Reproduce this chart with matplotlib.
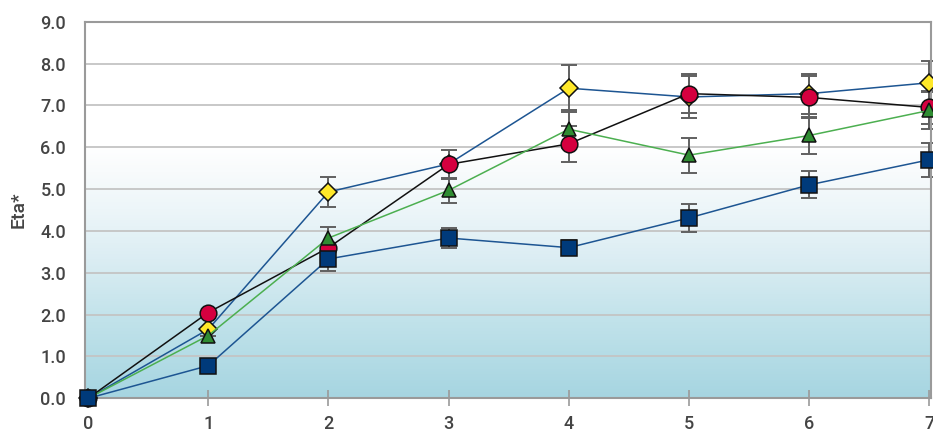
import numpy as np
import matplotlib
matplotlib.use("Agg")
import matplotlib.pyplot as plt
from matplotlib.colors import LinearSegmentedColormap

# ---- data ----
x = [0, 1, 2, 3, 4, 5, 6, 7]
squares = [0.0, 0.78, 3.33, 3.83, 3.60, 4.31, 5.10, 5.70]
squares_err = [0.0, 0.0, 0.28, 0.25, 0.18, 0.33, 0.32, 0.40]
diamonds = [0.0, 1.65, 4.93, 5.60, 7.41, 7.20, 7.28, 7.54]
diamonds_err = [0.0, 0.0, 0.35, 0.0, 0.56, 0.50, 0.48, 0.53]
circles = [0.0, 2.05, 3.60, 5.59, 6.08, 7.28, 7.19, 6.95]
circles_err = [0.0, 0.0, 0.0, 0.35, 0.43, 0.47, 0.50, 0.40]
triangles = [0.0, 1.50, 3.83, 4.97, 6.43, 5.81, 6.28, 6.88]
triangles_err = [0.0, 0.0, 0.27, 0.30, 0.45, 0.42, 0.45, 0.45]
yticks = [0, 1, 2, 3, 4, 5, 6, 7, 8, 9]
ylabel = "Eta*"

plt.rcParams['font.family'] = ['Roboto', 'DejaVu Sans']

fig = plt.figure(figsize=(9.33, 4.33), dpi=100)
ax = fig.add_axes([0.0916, 0.0801, 0.9064, 0.8699])

# gradient background
cmap = LinearSegmentedColormap.from_list(
    "bg", [(0.0, "#a6d5e1"), (0.3, "#c0e2ea"), (0.55, "#dbedf3"),
           (0.75, "#edf6f9"), (0.9, "#f8fbfc"), (1.0, "#ffffff")])
grad = np.linspace(0, 1, 256).reshape(-1, 1)
ax.imshow(grad, extent=[-0.022, 7.015, 0, 6], origin="lower", aspect="auto",
          cmap=cmap, zorder=0)
ax.set_xlim(-0.022, 7.015)
ax.set_ylim(0, 9)

ax.set_yticks(yticks)
ax.set_yticklabels([f"{v:.1f}" for v in yticks])
ax.set_xticks(x)
ax.grid(axis="y", color="#c4c4c4", linewidth=1.3, zorder=1)
ax.set_axisbelow(True)

for s in ax.spines.values():
    s.set_color("#9a9a9a")
    s.set_linewidth(1.5)

ax.tick_params(axis="y", length=0, pad=14, labelsize=13, labelcolor="#444444")
ax.tick_params(axis="x", direction="inout", length=11.5, width=1.2, color="#9a9a9a",
               pad=6, labelsize=13, labelcolor="#444444")
for lbl in ax.get_xticklabels() + ax.get_yticklabels():
    lbl.set_fontweight("medium")
ax.set_ylabel(ylabel, fontsize=14, color="#444444", labelpad=9, fontweight="medium")

series = [
    (diamonds, diamonds_err, "D", "#ffe82a", "#1d5592", 9.5, 3),
    (circles, circles_err, "o", "#d5003f", "#111111", 12, 4),
    (triangles, triangles_err, "^", "#2f8c32", "#4caf50", 9.5, 5),
    (squares, squares_err, "s", "#003a7a", "#1d5592", 11, 6),
]

for vals, errs, m, fc, lc, ms, z in series:
    ax.errorbar(x, vals, yerr=errs, fmt="none", ecolor="#606060", elinewidth=1.4,
                capsize=5.5, capthick=1.4, zorder=2, clip_on=False)

for vals, errs, m, fc, lc, ms, z in series:
    ax.plot(x, vals, color=lc, linewidth=1.1, zorder=z, clip_on=False)
    ax.plot(x, vals, linestyle="none", marker=m, markersize=ms, markerfacecolor=fc,
            markeredgecolor="#111111", markeredgewidth=1.1, zorder=z + 0.5, clip_on=False)

fig.savefig("out.png", dpi=100, facecolor="white")
